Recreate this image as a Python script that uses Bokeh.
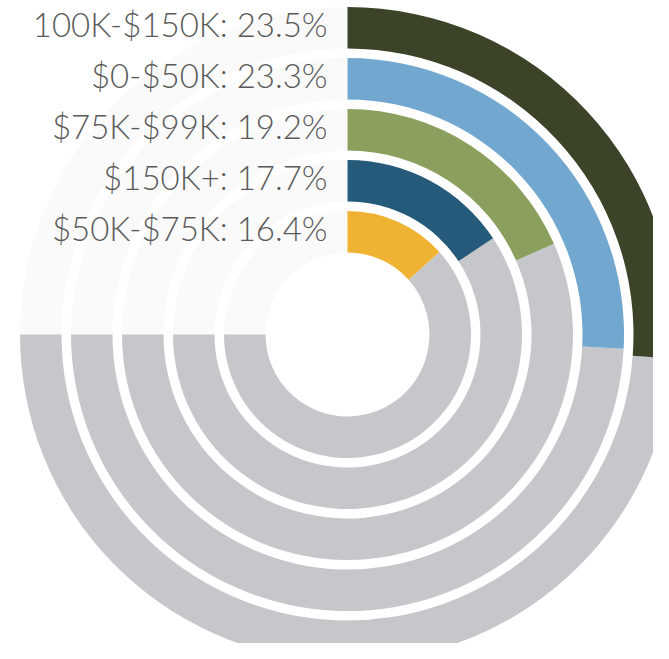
import numpy as np
from bokeh.plotting import figure
from bokeh.models import ColumnDataSource
from bokeh.core.properties import value
from bokeh.embed import file_html
from bokeh.resources import INLINE

# ---- data ----
categories = ["100K-$150K", "$0-$50K", "$75K-$99K", "$150K+", "$50K-$75K"]
shares = [23.5, 23.3, 19.2, 17.7, 16.4]
colors = ["#3b4429", "#72a7cf", "#8ba05e", "#255a7a", "#f0b232"]
labels = [f"{c}: {s}%" for c, s in zip(categories, shares)]

# ---- scale: percent -> degrees clockwise from 12 o'clock (gauge spans 270 deg) ----
GAUGE_MIN = 9.0
DEG_PER_PCT = 6.5

def to_deg(v):
    return (v - GAUGE_MIN) * DEG_PER_PCT

# ---- layout ----
R_OUTER = 327.5
PITCH = 51.0
WIDTH = 41.5

n = len(categories)
outer = np.array([R_OUTER - PITCH * i for i in range(n)])
inner = outer - WIDTH
sweep = np.radians([to_deg(v) for v in shares])
top = np.pi / 2

src = ColumnDataSource(dict(
    inner=inner, outer=outer,
    c_start=top - sweep, c_end=np.full(n, top),
    g_start=np.full(n, np.pi), g_end=top - sweep + 2 * np.pi,
    f_start=np.full(n, top), f_end=np.full(n, np.pi),
    color=colors, label=labels,
    lx=np.full(n, -20.0), ly=outer - WIDTH / 2 + 4,
))

p = figure(width=653, height=643, x_range=(-347, 306), y_range=(-309, 334),
           output_backend="svg", toolbar_location=None, min_border=0)
p.axis.visible = False
p.grid.visible = False
p.outline_line_color = None
p.background_fill_color = "white"
p.border_fill_color = "white"

# faint background track in the empty quadrant
p.annular_wedge(x=0, y=0, inner_radius="inner", outer_radius="outer",
                start_angle="f_start", end_angle="f_end", direction="anticlock",
                fill_color="#fafafa", line_color=None, source=src)
# grey remainder
p.annular_wedge(x=0, y=0, inner_radius="inner", outer_radius="outer",
                start_angle="g_start", end_angle="g_end", direction="anticlock",
                fill_color="#c6c7cb", line_color=None, source=src)
# coloured value arcs
p.annular_wedge(x=0, y=0, inner_radius="inner", outer_radius="outer",
                start_angle="c_start", end_angle="c_end", direction="anticlock",
                fill_color="color", line_color=None, source=src)

p.text(x="lx", y="ly", text="label", source=src, text_align="right",
       text_baseline="middle", text_font=value("Lato Light"), text_font_size="33px",
       text_color="#5a5a5a")

open("out.html", "w").write(file_html(p, INLINE))
